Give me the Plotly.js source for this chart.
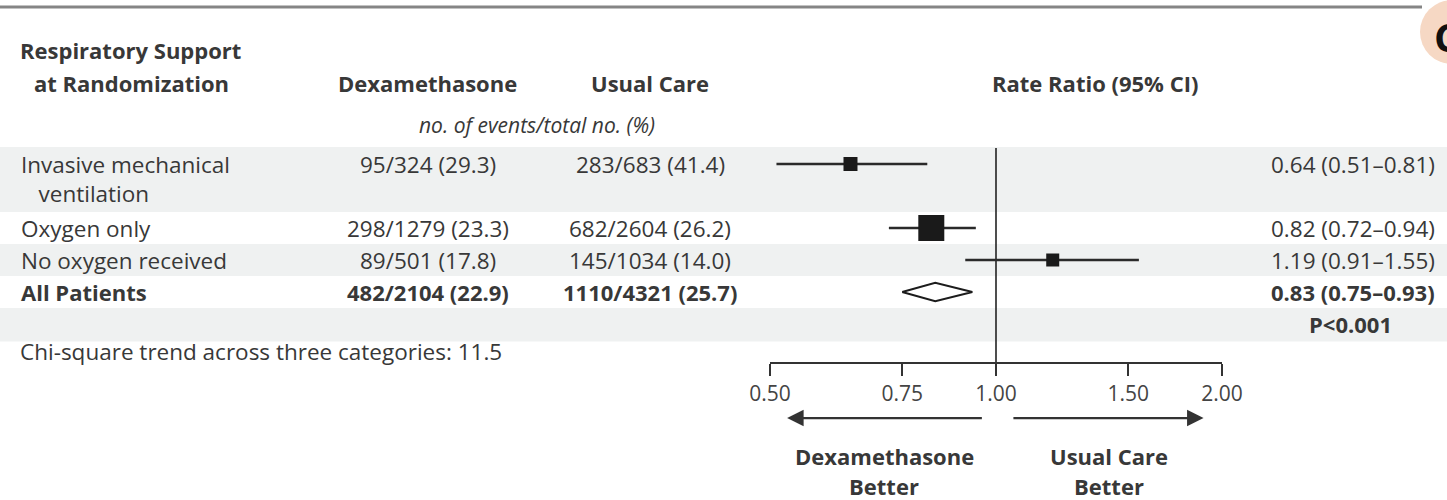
<!DOCTYPE html>
<html>
<head>
<meta charset="utf-8">
<script src="https://cdn.plot.ly/plotly-3.0.1.min.js"></script>
<style>
  html, body { margin: 0; padding: 0; background: #ffffff; }
  #chart { width: 1447px; height: 500px; }
</style>
</head>
<body>
<div id="chart"></div>
<script>
// ---------------- DATA ----------------
const categoryLines = [
  ['Invasive mechanical', 'ventilation'],
  ['Oxygen only'],
  ['No oxygen received'],
  ['All Patients']
];
const dexaText  = ['95/324 (29.3)', '298/1279 (23.3)', '89/501 (17.8)', '482/2104 (22.9)'];
const usualText = ['283/683 (41.4)', '682/2604 (26.2)', '145/1034 (14.0)', '1110/4321 (25.7)'];
const rateRatio = [0.64, 0.82, 1.19, 0.83];
const ciLow     = [0.51, 0.72, 0.91, 0.75];
const ciHigh    = [0.81, 0.94, 1.55, 0.93];
const pValueText = 'P<0.001';
const trendText = 'Chi-square trend across three categories: 11.5';
const tickVals  = [0.50, 0.75, 1.00, 1.50, 2.00];
const tickText  = ['0.50', '0.75', '1.00', '1.50', '2.00'];
const headers = {
  group: ['Respiratory Support', 'at Randomization'],
  dexa: 'Dexamethasone',
  usual: 'Usual Care',
  ratio: 'Rate Ratio (95% CI)',
  sub: 'no. of events/total no. (%)'
};
const leftLabel  = ['Dexamethasone', 'Better'];
const rightLabel = ['Usual Care', 'Better'];

// ---------------- LAYOUT / STYLE ----------------
const W = 1447, H = 500;
const FONT = '"Open Sans", "Noto Sans", sans-serif';
const TXT = '#383838';
const rowPos = [0, 2, 3, 4];          // line index of each row (row 1 spans two lines)
const summaryRow = 3;                 // index of "All Patients"
const markerSize = [14, 26, 13];      // square sizes for subgroup rows
const px = v => v / W;                // pixel -> paper x
const FS = 22.5;                      // body text
const FSB = 22;                       // bold headers
const INDENT = '\u00a0\u00a0\u00a0';

const subIdx = [0, 1, 2];
const traces = [];

// reference line at 1.00
traces.push({
  x: [1, 1], y: [-0.5, 6.19], mode: 'lines', type: 'scatter',
  line: { color: '#222', width: 1.6 }, hoverinfo: 'skip', showlegend: false, cliponaxis: false
});

// subgroup squares with CI
traces.push({
  type: 'scatter', mode: 'markers',
  x: subIdx.map(i => rateRatio[i]),
  y: subIdx.map(i => rowPos[i]),
  marker: { symbol: 'square', size: subIdx.map(i => markerSize[i]), color: '#1a1a1a', opacity: 1, line: { width: 0 } },
  error_x: {
    type: 'data', symmetric: false,
    array: subIdx.map(i => ciHigh[i] - rateRatio[i]),
    arrayminus: subIdx.map(i => rateRatio[i] - ciLow[i]),
    color: '#2a2a2a', thickness: 2.5, width: 0
  },
  cliponaxis: false, showlegend: false, hoverinfo: 'skip'
});

// summary diamond
const s = summaryRow, dh = 0.29;
traces.push({
  type: 'scatter', mode: 'lines', fill: 'toself', fillcolor: '#ffffff',
  x: [ciLow[s], rateRatio[s], ciHigh[s], rateRatio[s], ciLow[s]],
  y: [rowPos[s], rowPos[s] - dh, rowPos[s], rowPos[s] + dh, rowPos[s]],
  line: { color: '#1c1c1c', width: 2 }, cliponaxis: false, showlegend: false, hoverinfo: 'skip'
});

const annotations = [];
function txt(text, xPix, y, opts = {}) {
  const size = opts.size || FS;
  delete opts.size;
  annotations.push(Object.assign({
    text: text, x: px(xPix), xref: 'paper', y: y, yref: 'y',
    showarrow: false, xanchor: 'center', yanchor: 'middle',
    font: { family: FONT, size: size, color: TXT }
  }, opts));
}

// header
txt('<b>' + headers.group[0] + '</b>', 18, -3.56, { xanchor: 'left', size: FSB });
txt('<b>' + headers.group[1] + '</b>', 32, -2.53, { xanchor: 'left', size: FSB });
txt('<b>' + headers.dexa + '</b>', 428, -2.53, { size: FSB });
txt('<b>' + headers.usual + '</b>', 650, -2.53, { size: FSB });
txt('<b>' + headers.ratio + '</b>', 1095, -2.53, { size: FSB });
txt('<i>' + headers.sub + '</i>', 537, -1.22, { size: 21 });

// rows
categoryLines.forEach((lines, i) => {
  const bold = i === summaryRow;
  const w = t => bold ? '<b>' + t + '</b>' : t;
  const sz = bold ? FSB : FS;
  const label = lines.map((ln, j) => (j === 0 ? '' : INDENT) + w(ln)).join('<br>');
  txt(label, 19, rowPos[i], { xanchor: 'left', yanchor: 'top', align: 'left', size: sz, yshift: 17 });
  txt(w(dexaText[i]), 428, rowPos[i], { size: sz });
  txt(w(usualText[i]), 650, rowPos[i], { size: sz });
  txt(w(rateRatio[i].toFixed(2) + ' (' + ciLow[i].toFixed(2) + '–' + ciHigh[i].toFixed(2) + ')'),
      1437, rowPos[i], { xanchor: 'right', size: sz });
});
txt('<b>' + pValueText + '</b>', 1350, 5, { size: FSB });
txt(trendText, 18, 5.85, { xanchor: 'left' });

// direction arrows
annotations.push({
  x: Math.log10(0.527), y: 7.94, xref: 'x', yref: 'y',
  ax: Math.log10(0.962), ay: 7.94, axref: 'x', ayref: 'y',
  showarrow: true, arrowhead: 2, arrowsize: 1.5, arrowwidth: 2.2, arrowcolor: '#333', text: ''
});
annotations.push({
  x: Math.log10(1.89), y: 7.94, xref: 'x', yref: 'y',
  ax: Math.log10(1.05), ay: 7.94, axref: 'x', ayref: 'y',
  showarrow: true, arrowhead: 2, arrowsize: 1.5, arrowwidth: 2.2, arrowcolor: '#333', text: ''
});
txt('<b>' + leftLabel[0] + '</b>', 884, 9.14, { size: FSB });
txt('<b>' + leftLabel[1] + '</b>', 884, 10.06, { size: FSB });
txt('<b>' + rightLabel[0] + '</b>', 1109, 9.14, { size: FSB });
txt('<b>' + rightLabel[1] + '</b>', 1109, 10.06, { size: FSB });

// panel badge "C"
annotations.push({
  text: '<b>C</b>', x: px(1432), xref: 'paper', y: 1 - 37 / H, yref: 'paper',
  xanchor: 'left', yanchor: 'middle', showarrow: false,
  font: { family: FONT, size: 40, color: '#111' }
});

const BAND = '#eff1f1';
const shapes = [
  // alternating row bands
  { type: 'rect', xref: 'paper', yref: 'y', x0: 0, x1: 1, y0: -0.53, y1: 1.5, fillcolor: BAND, line: { width: 0 }, layer: 'below' },
  { type: 'rect', xref: 'paper', yref: 'y', x0: 0, x1: 1, y0: 2.5, y1: 3.5, fillcolor: BAND, line: { width: 0 }, layer: 'below' },
  { type: 'rect', xref: 'paper', yref: 'y', x0: 0, x1: 1, y0: 4.5, y1: 5.55, fillcolor: BAND, line: { width: 0 }, layer: 'below' },
  // top rule
  { type: 'line', xref: 'paper', yref: 'paper', x0: 0, x1: px(1422), y0: 1 - 7 / H, y1: 1 - 7 / H, line: { color: '#858585', width: 3 } },
  // badge
  { type: 'circle', xref: 'paper', yref: 'paper', x0: px(1420), x1: px(1484), y0: 1 - 64 / H, y1: 1 - 0 / H, fillcolor: '#f6d8c4', line: { width: 0 }, layer: 'below' }
];

const layout = {
  width: W, height: H,
  margin: { l: 0, r: 0, t: 0, b: 0 },
  paper_bgcolor: '#ffffff', plot_bgcolor: 'rgba(0,0,0,0)',
  showlegend: false,
  xaxis: {
    type: 'log', domain: [770 / W, 1222 / W],
    range: [Math.log10(0.5), Math.log10(2)],
    anchor: 'free', position: 1 - 362 / H,
    showline: true, linecolor: '#333', linewidth: 1.6,
    ticks: 'outside', ticklen: 12, tickwidth: 1.6, tickcolor: '#333',
    tickvals: tickVals, ticktext: tickText,
    tickfont: { family: FONT, size: 21, color: '#444' },
    showgrid: false, zeroline: false, fixedrange: true
  },
  yaxis: {
    domain: [0, 1], range: [10.5, -5.125], visible: false,
    showgrid: false, zeroline: false, fixedrange: true
  },
  annotations: annotations,
  shapes: shapes
};

Plotly.newPlot('chart', traces, layout, { staticPlot: true, displayModeBar: false });
</script>
</body>
</html>
